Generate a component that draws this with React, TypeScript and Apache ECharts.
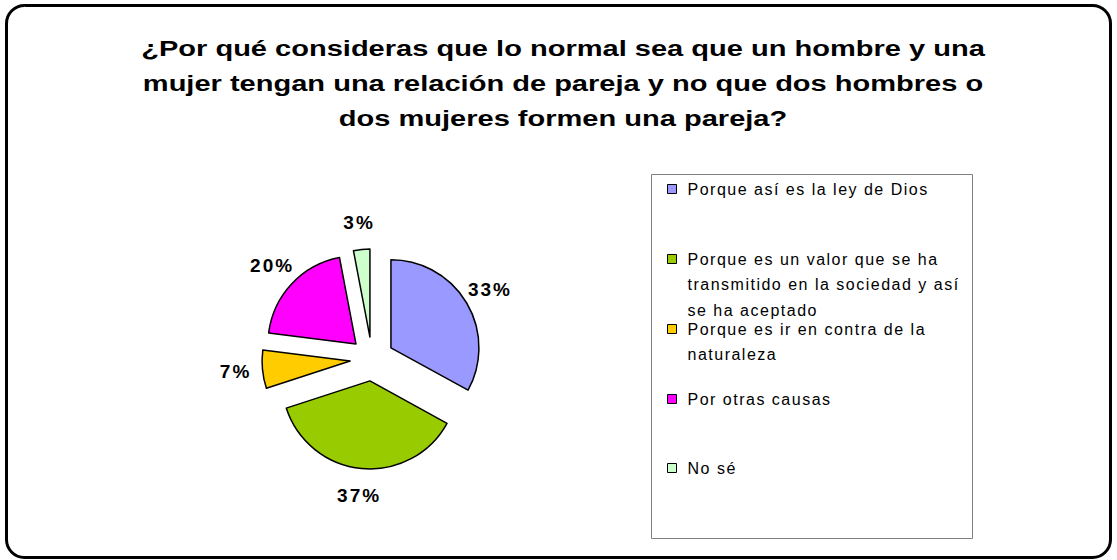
import React, { useEffect, useRef } from "react";
import * as echarts from "echarts";

const titleLines = [
  "¿Por qué consideras que lo normal sea que un hombre y una",
  "mujer tengan una relación de pareja y no que dos hombres o",
  "dos mujeres formen una pareja?",
];

const categories = [
  "Porque así es la ley de Dios",
  "Porque es un valor que se ha transmitido en la sociedad y así se ha aceptado",
  "Porque es ir en contra de la naturaleza",
  "Por otras causas",
  "No sé",
];

const legendLines = [
  ["Porque así es la ley de Dios"],
  ["Porque es un valor que se ha", "transmitido en la sociedad y así", "se ha aceptado"],
  ["Porque es ir en contra de la", "naturaleza"],
  ["Por otras causas"],
  ["No sé"],
];

const values = [33, 37, 7, 20, 3];

const colors = ["#9999FF", "#99CC00", "#FFCC00", "#FF00FF", "#CCFFCC"];

const FONT = "'Liberation Sans', Arial, Helvetica, sans-serif";

const css = `
#root svg text[style*="16px"] { letter-spacing: 1.5px; }
#root svg text[style*="19px"] { letter-spacing: 2px; }
`;

export default function App() {
  const ref = useRef<HTMLDivElement>(null);

  useEffect(() => {
    document.body.style.margin = "0";
    const chart = echarts.init(ref.current!, null, { renderer: "svg" });

    const center = [372, 359];
    const offset = 22;
    const L = 25.6;
    const legendCenters = [189, 259, 329, 399, 468];

    const legends = categories.map((name, i) => {
      const lines = legendLines[i];
      const m = lines.length;
      const text = "\n".repeat(m - 1) + lines.join("\n");
      const h = (2 * m - 1) * L;
      return {
        data: [name],
        orient: "vertical",
        left: 667,
        top: legendCenters[i] - h / 2,
        padding: 0,
        itemWidth: 9,
        itemHeight: 9,
        icon: "rect",
        selectedMode: false,
        itemStyle: { borderColor: "#000", borderWidth: 1 },
        formatter: () => text,
        textStyle: {
          fontFamily: FONT,
          fontSize: 16,
          color: "#000",
          lineHeight: L,
          padding: [0, 0, 0, 6],
        },
      };
    });

    chart.setOption({
      animation: false,
      backgroundColor: "#fff",
      legend: legends,
      graphic: [
        {
          type: "rect",
          shape: { x: 6.5, y: 5.5, width: 1104, height: 552, r: 18 },
          style: { fill: "none", stroke: "#000", lineWidth: 3 },
          silent: true,
          z: 0,
        },
        {
          type: "rect",
          shape: { x: 651.5, y: 174.5, width: 321, height: 364 },
          style: { fill: "none", stroke: "#808080", lineWidth: 1 },
          silent: true,
          z: 0,
        },
        {
          type: "text",
          x: 563,
          y: 30.5,
          scaleX: 1.32,
          silent: true,
          style: {
            text: titleLines.join("\n"),
            fontFamily: FONT,
            fontWeight: "bold",
            fontSize: 22,
            lineHeight: 35,
            fill: "#000",
            align: "center",
            verticalAlign: "top",
          },
        },
      ],
      series: [
        {
          type: "pie",
          center,
          radius: [0, 88],
          startAngle: 90,
          clockwise: true,
          selectedMode: "multiple",
          selectedOffset: offset,
          avoidLabelOverlap: false,
          label: { show: false },
          labelLine: { show: false },
          emphasis: { disabled: true },
          itemStyle: { borderColor: "#000", borderWidth: 1.5 },
          select: { itemStyle: { borderColor: "#000", borderWidth: 1.5 } },
          data: categories.map((name, i) => ({
            name,
            value: values[i],
            selected: true,
            itemStyle: { color: colors[i] },
            select: { itemStyle: { color: colors[i], borderColor: "#000", borderWidth: 1.5 } },
          })),
        },
        {
          type: "pie",
          center,
          radius: [110, 114],
          startAngle: 90,
          clockwise: true,
          selectedMode: "multiple",
          selectedOffset: offset,
          silent: true,
          avoidLabelOverlap: false,
          emphasis: { disabled: true },
          itemStyle: { color: "rgba(0,0,0,0)", borderWidth: 0 },
          select: {
            itemStyle: { color: "rgba(0,0,0,0)", borderWidth: 0 },
            label: { fontWeight: "bold", fontSize: 19, color: "#000", fontFamily: FONT },
          },
          label: {
            show: true,
            position: "inside",
            formatter: (p: any) => p.value + "%",
            fontFamily: FONT,
            fontWeight: "bold",
            fontSize: 19,
            color: "#000",
          },
          labelLine: { show: false },
          data: categories.map((name, i) => ({
            name,
            value: values[i],
            selected: true,
          })),
        },
      ],
    });

    return () => chart.dispose();
  }, []);

  return (
    <>
      <style>{css}</style>
      <div ref={ref} style={{ width: 1117, height: 560 }} />
    </>
  );
}
